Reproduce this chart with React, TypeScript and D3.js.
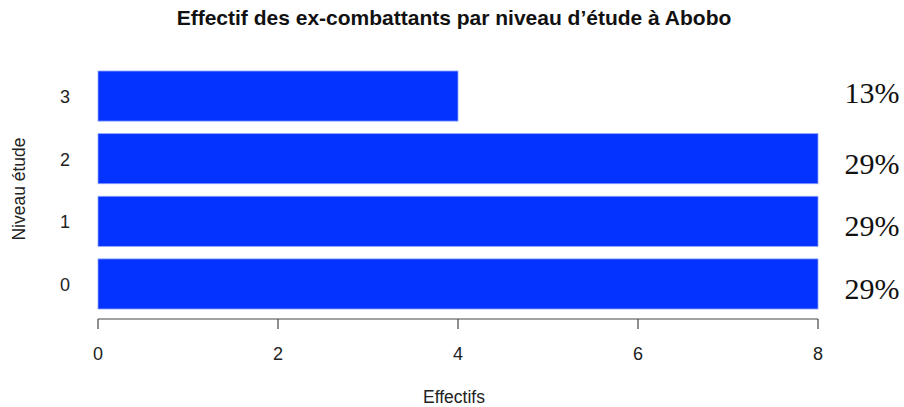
import React from "react";
import * as d3 from "d3";

const categories = ["0", "1", "2", "3"];
const effectifs = [8, 8, 8, 4];
const percentLabels = ["29%", "29%", "29%", "13%"];
const xTicks = [0, 2, 4, 6, 8];
const title = "Effectif des ex-combattants par niveau d\u2019étude à Abobo";
const xTitle = "Effectifs";
const yTitle = "Niveau étude";

const W = 904;
const H = 407;

export default function App() {
  const x = d3.scaleLinear().domain([0, 8]).range([98, 818]);
  const y = d3
    .scaleBand<string>()
    .domain([...categories].reverse())
    .range([71, 309])
    .paddingInner(0.2)
    .paddingOuter(0);
  const bw = y.bandwidth();
  const axisY = 319;
  const sans = "Arial, 'Liberation Sans', sans-serif";
  const labelOffset = (v: number) => (v < 8 ? 7 : 15);

  return (
    <div style={{ position: "absolute", left: 0, top: 0, width: W, height: H, background: "#fff" }}>
      <svg width={W} height={H} style={{ display: "block" }}>
        <rect width={W} height={H} fill="#fff" />
        <text x={454} y={25} textAnchor="middle" fontFamily={sans} fontWeight="bold" fontSize={21} fill="#111">
          {title}
        </text>
        {categories.map((c, i) => (
          <g key={c}>
            <rect
              x={x(0)}
              y={y(c)!}
              width={x(effectifs[i]) - x(0)}
              height={bw}
              fill="#0433ff"
              stroke="#8fa4ff"
              strokeWidth={0.8}
            />
            <text
              x={70}
              y={y(c)! + bw / 2 + 7}
              textAnchor="end"
              fontFamily={sans}
              fontSize={18}
              fill="#222"
            >
              {c}
            </text>
            <text
              x={872}
              y={y(c)! + bw / 2 + labelOffset(effectifs[i])}
              textAnchor="middle"
              fontFamily="'Liberation Serif', 'Times New Roman', serif"
              fontSize={30}
              fill="#111"
            >
              {percentLabels[i]}
            </text>
          </g>
        ))}
        <line x1={x(0)} x2={x(8)} y1={axisY} y2={axisY} stroke="#444" strokeWidth={1.2} />
        {xTicks.map((t) => (
          <g key={t}>
            <line x1={x(t)} x2={x(t)} y1={axisY} y2={axisY + 10} stroke="#444" strokeWidth={1.2} />
            <text x={x(t)} y={360} textAnchor="middle" fontFamily={sans} fontSize={18} fill="#222">
              {t}
            </text>
          </g>
        ))}
        <text x={454} y={403} textAnchor="middle" fontFamily={sans} fontSize={17.5} fill="#222">
          {xTitle}
        </text>
        <text
          transform={`translate(25, 189) rotate(-90)`}
          textAnchor="middle"
          fontFamily={sans}
          fontSize={17.5}
          fill="#222"
        >
          {yTitle}
        </text>
      </svg>
    </div>
  );
}
